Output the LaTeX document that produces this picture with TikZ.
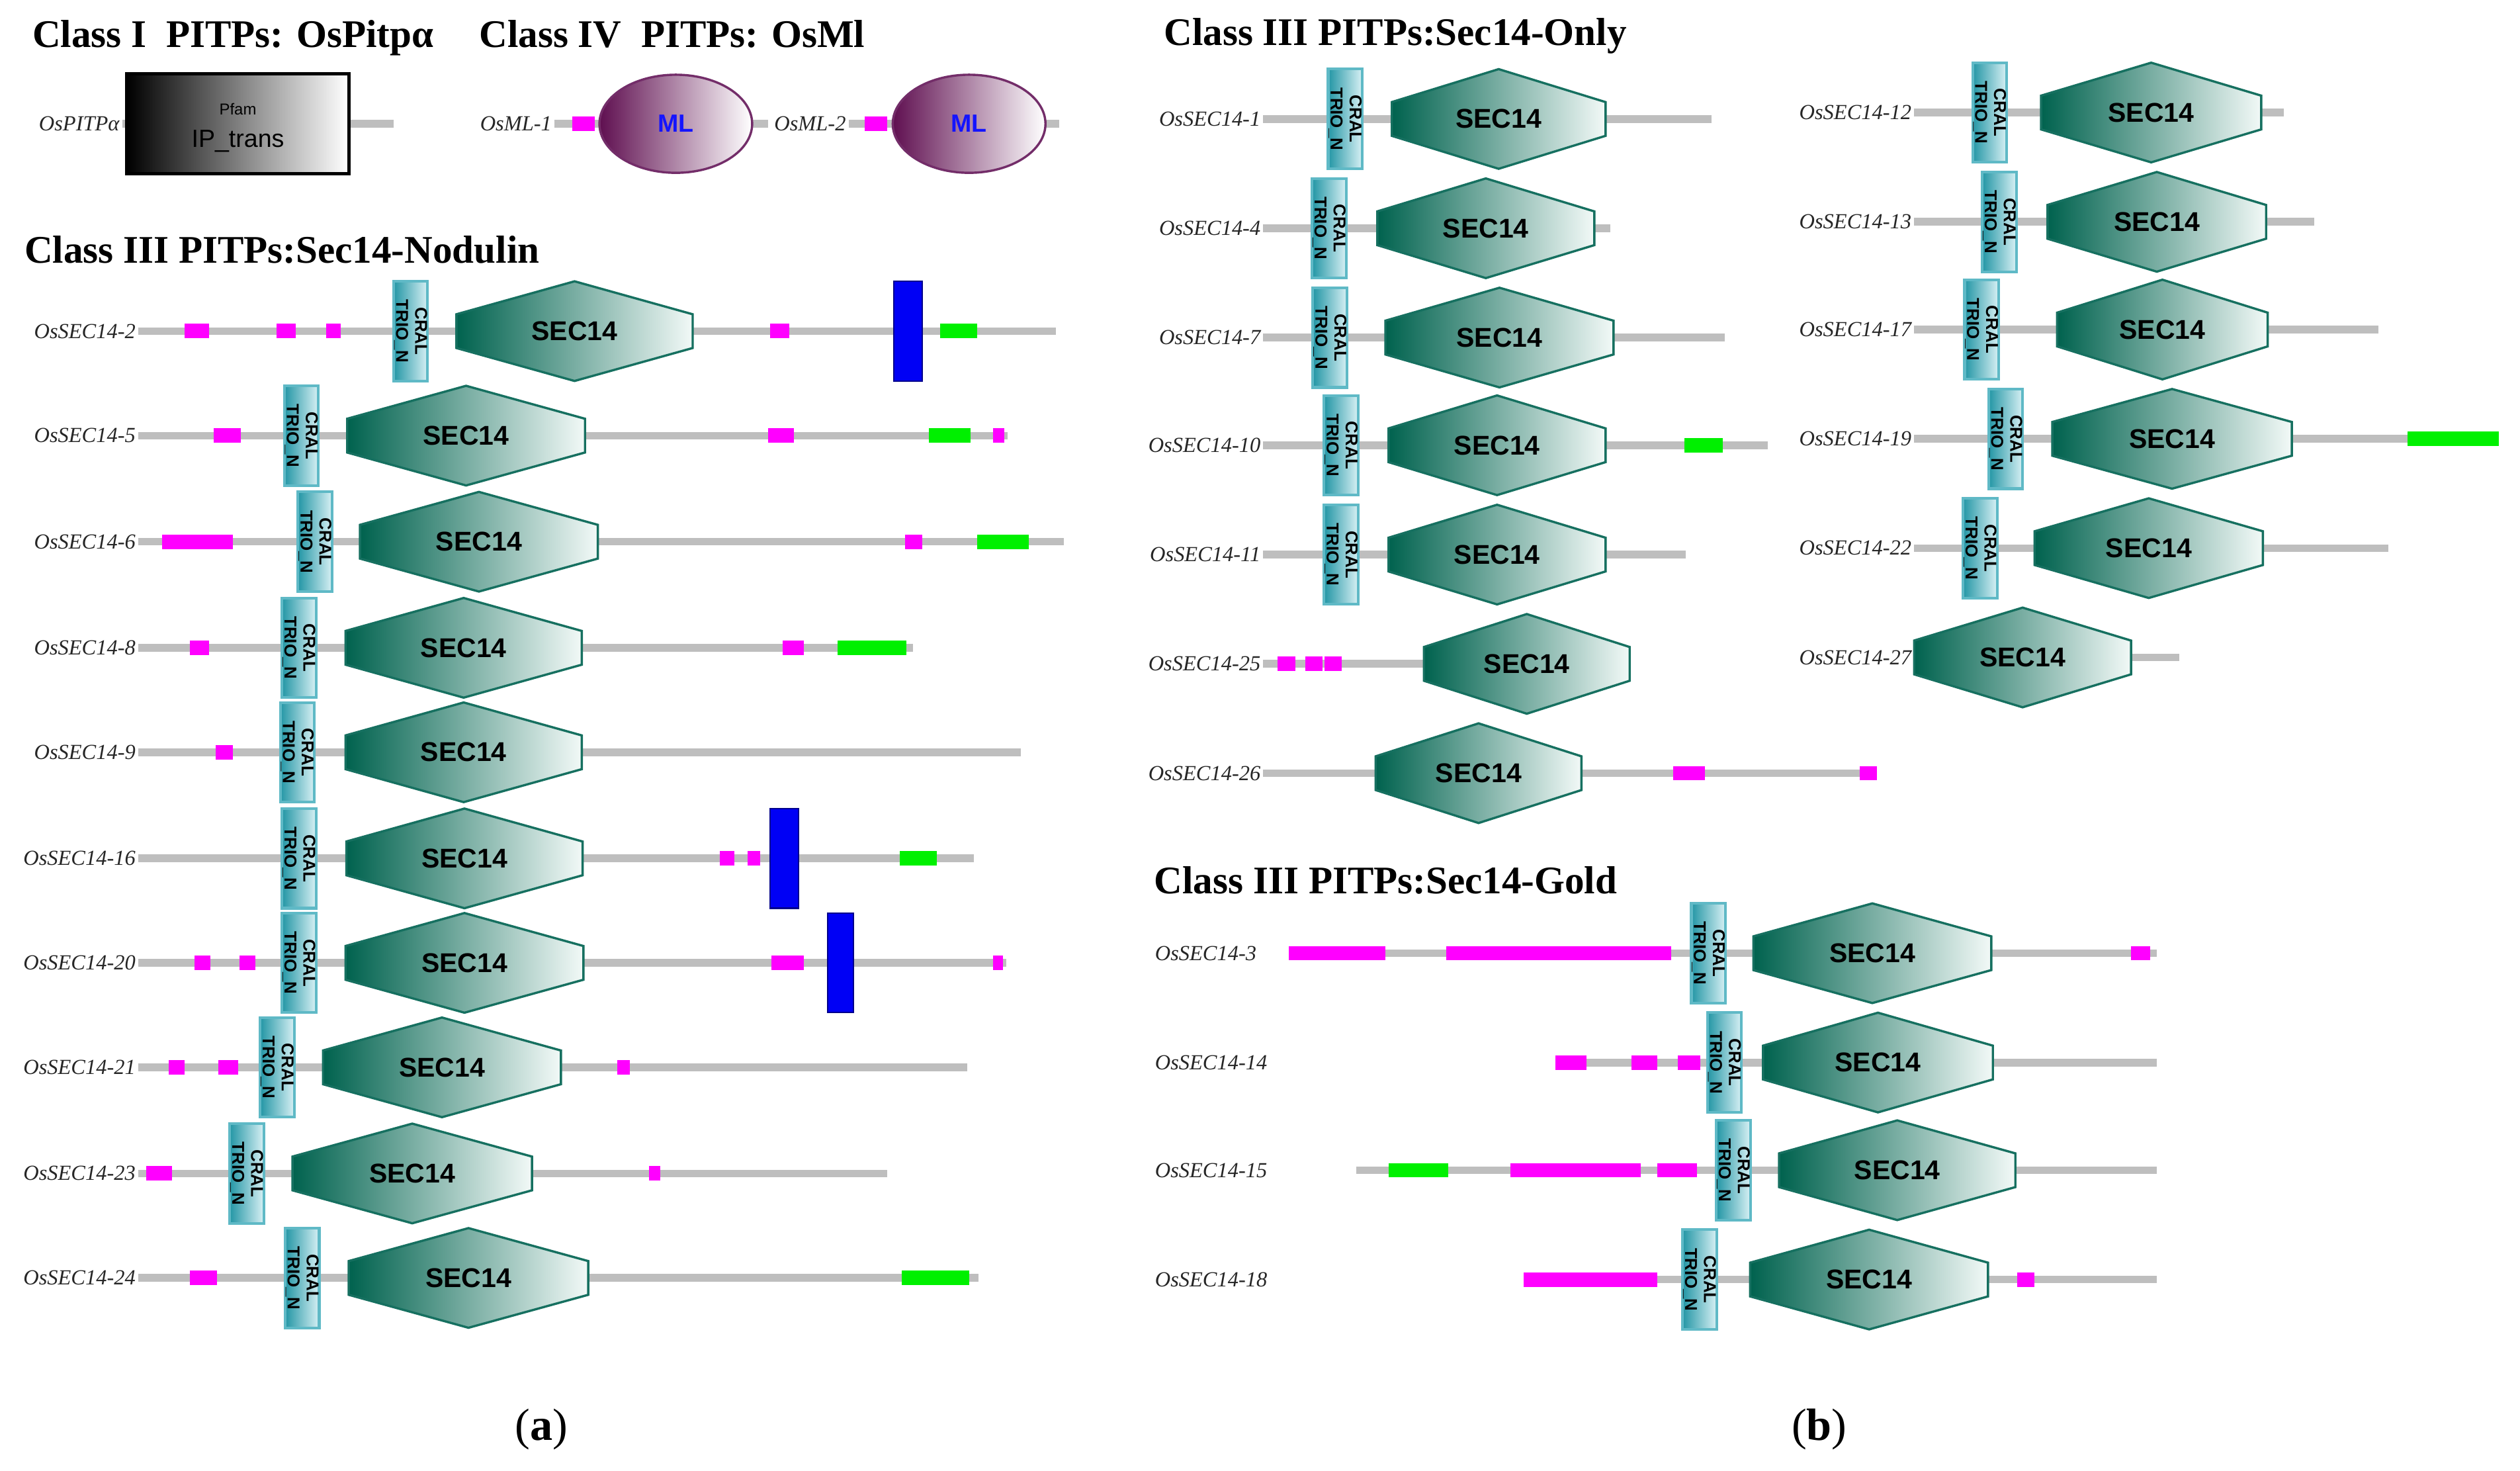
\documentclass[tikz,border=0pt]{standalone}
\usepackage{fontspec}
\setmainfont{Liberation Serif}
\newfontfamily\arial{Liberation Sans}
\usepackage{graphicx}
\usetikzlibrary{shapes.geometric, calc, positioning}

\definecolor{backgray}{RGB}{190,190,190}
\definecolor{motifpink}{RGB}{255,0,255}
\definecolor{motifgreen}{RGB}{0,240,0}
\definecolor{tmblue}{RGB}{0,0,245}
\definecolor{tmborder}{RGB}{0,0,140}
\definecolor{hexdark}{RGB}{0,98,78}
\definecolor{hexlight}{RGB}{242,249,247}
\definecolor{hexline}{RGB}{22,112,96}
\definecolor{craldark}{RGB}{35,150,165}
\definecolor{crallight}{RGB}{215,240,244}
\definecolor{cralline}{RGB}{95,185,198}
\definecolor{mldark}{RGB}{95,15,80}
\definecolor{mlline}{RGB}{115,45,105}
\definecolor{mlblue}{RGB}{20,20,255}

\tikzstyle{title} = [anchor=base west, inner sep=0pt, font=\fontsize{17.3}{17.3}\selectfont\bfseries]
\tikzstyle{protname} = [anchor=east, inner sep=1pt, font=\fontsize{9.5}{9.5}\selectfont\itshape, text=black!85]
\tikzstyle{goldname} = [protname, anchor=west]
\tikzstyle{backbone} = [draw=backgray, line width=3.4pt]
\tikzstyle{pinkbox} = [fill=motifpink]
\tikzstyle{greenbox} = [fill=motifgreen]
\tikzstyle{tmbox} = [fill=tmblue, draw=tmborder, line width=0.6pt]
\tikzstyle{cral} = [rectangle, minimum width=0.53cm, minimum height=1.55cm, inner sep=0pt, left color=craldark, right color=crallight, draw=cralline, line width=1.2pt, font=\fontsize{7.6}{7.6}\selectfont\arial\bfseries]
\tikzstyle{hexa} = [draw=hexline, line width=1pt, left color=hexdark, right color=hexlight]
\tikzstyle{sectext} = [inner sep=0pt, font=\fontsize{12}{12}\selectfont\arial\bfseries]
\tikzstyle{mlnode} = [ellipse, minimum width=2.375cm, minimum height=1.525cm, inner sep=0pt, left color=mldark, right color=white, draw=mlline, line width=1pt, text=mlblue, font=\fontsize{11}{11}\selectfont\arial\bfseries]
\tikzstyle{ipbox} = [rectangle, minimum width=3.45cm, minimum height=1.55cm, inner sep=0pt, left color=black, right color=white, draw=black, line width=1.4pt]

% hexagon with its SEC14 label: name, centre x, half width
\newcommand{\sechex}[3]{%
  \path[hexa] ({#2-#3},-10.5) -- (#2,-31) -- ({#2+#3},-10.5) -- ({#2+#3},10.5) -- (#2,31) -- ({#2-#3},10.5) -- cycle;
  \node[sectext] (#1) at (#2,0) {SEC14};}
\newcommand{\pinks}[1]{\foreach \a/\b in {#1} \fill[pinkbox] (\a,-4.5) rectangle (\b,4.5);}
\newcommand{\greens}[1]{\foreach \a/\b in {#1} \fill[greenbox] (\a,-4.5) rectangle (\b,4.5);}
\newcommand{\tms}[1]{\foreach \a/\b in {#1} \draw[tmbox] (\a,-31) rectangle (\b,31);}
\newcommand{\cralbox}{\rotatebox{-90}{\shortstack{CRAL\\TRIO\_N}}}

\begin{document}
\begin{tikzpicture}[x=0.025cm, y=-0.025cm]

\useasboundingbox (0,0) rectangle (1568,915);
\fill[white] (0,0) rectangle (1568,915);

% titles
\node[title] (tone) at (20,29.5) {Class I\ \ PITPs: OsPitpα};
\node[title] (tfour) at (298,29.5) {Class IV\ \ PITPs: OsMl};
\node[title] (tnod) at (15,163.5) {Class III PITPs:Sec14-Nodulin};
\node[title] (tonly) at (724,28) {Class III PITPs:Sec14-Only};
\node[title] (tgold) at (718,556) {Class III PITPs:Sec14-Gold};

% class I and class IV
\begin{scope}[shift={(0,77)}]
\node[protname] (pitp) at (76,0) {OsPITPα};
\coordinate (pitpe) at (245,0);
\draw[backbone] (pitp) -- (pitpe);
\node[ipbox] (iptrans) at (148,0) {};
\node[font=\fontsize{7}{7}\selectfont\arial] (pfam) at (148,-9) {Pfam};
\node[font=\fontsize{11}{11}\selectfont\arial] (ipname) at (148,11) {IP\_trans};

\node[protname] (mla) at (345,0) {OsML-1};
\coordinate (mlae) at (478,0);
\draw[backbone] (mla) -- (mlae);
\pinks{356/370}
\node[mlnode] (mlone) at (420.5,0) {ML};

\node[protname] (mlb) at (528,0) {OsML-2};
\coordinate (mlbe) at (659,0);
\draw[backbone] (mlb) -- (mlbe);
\pinks{538/552}
\node[mlnode] (mltwo) at (603,0) {ML};
\end{scope}

% Sec14-Nodulin
\begin{scope}[shift={(0,206)}]
\node[protname] (n2) at (86,0) {OsSEC14-2};
\coordinate (n2e) at (657,0);
\draw[backbone] (n2) -- (n2e);
\pinks{115/130,172/184,203/212,479/491}
\greens{585/608}
\tms{556/574}
\node[cral] (n2c) at (255.5,0) {\cralbox};
\sechex{n2s}{357.5}{73.5}
\end{scope}

\begin{scope}[shift={(0,271)}]
\node[protname] (n5) at (86,0) {OsSEC14-5};
\coordinate (n5e) at (627,0);
\draw[backbone] (n5) -- (n5e);
\pinks{133/150,478/494,618/625}
\greens{578/604}
\node[cral] (n5c) at (187.5,0) {\cralbox};
\sechex{n5s}{290}{74}
\end{scope}

\begin{scope}[shift={(0,337)}]
\node[protname] (n6) at (86,0) {OsSEC14-6};
\coordinate (n6e) at (662,0);
\draw[backbone] (n6) -- (n6e);
\pinks{101/145,563/574}
\greens{608/640}
\node[cral] (n6c) at (196,0) {\cralbox};
\sechex{n6s}{298}{74}
\end{scope}

\begin{scope}[shift={(0,403)}]
\node[protname] (n8) at (86,0) {OsSEC14-8};
\coordinate (n8e) at (568,0);
\draw[backbone] (n8) -- (n8e);
\pinks{118/130,487/500}
\greens{521/564}
\node[cral] (n8c) at (186,0) {\cralbox};
\sechex{n8s}{288.5}{73.5}
\end{scope}

\begin{scope}[shift={(0,468)}]
\node[protname] (n9) at (86,0) {OsSEC14-9};
\coordinate (n9e) at (635,0);
\draw[backbone] (n9) -- (n9e);
\pinks{134/145}
\node[cral] (n9c) at (185,0) {\cralbox};
\sechex{n9s}{288.5}{73.5}
\end{scope}

\begin{scope}[shift={(0,534)}]
\node[protname] (n16) at (86,0) {OsSEC14-16};
\coordinate (n16e) at (606,0);
\draw[backbone] (n16) -- (n16e);
\pinks{448/457,465/473}
\greens{560/583}
\tms{479/497}
\node[cral] (n16c) at (186,0) {\cralbox};
\sechex{n16s}{289}{73.5}
\end{scope}

\begin{scope}[shift={(0,599)}]
\node[protname] (n20) at (86,0) {OsSEC14-20};
\coordinate (n20e) at (626,0);
\draw[backbone] (n20) -- (n20e);
\pinks{121/131,149/159,480/500,618/624}
\tms{515/531}
\node[cral] (n20c) at (186,0) {\cralbox};
\sechex{n20s}{289}{74}
\end{scope}

\begin{scope}[shift={(0,664)}]
\node[protname] (n21) at (86,0) {OsSEC14-21};
\coordinate (n21e) at (602,0);
\draw[backbone] (n21) -- (n21e);
\pinks{105/115,136/148,384/392}
\node[cral] (n21c) at (172.5,0) {\cralbox};
\sechex{n21s}{275}{74}
\end{scope}

\begin{scope}[shift={(0,730)}]
\node[protname] (n23) at (86,0) {OsSEC14-23};
\coordinate (n23e) at (552,0);
\draw[backbone] (n23) -- (n23e);
\pinks{91/107,404/411}
\node[cral] (n23c) at (153.5,0) {\cralbox};
\sechex{n23s}{256.5}{74.5}
\end{scope}

\begin{scope}[shift={(0,795)}]
\node[protname] (n24) at (86,0) {OsSEC14-24};
\coordinate (n24e) at (609,0);
\draw[backbone] (n24) -- (n24e);
\pinks{118/135}
\greens{561/603}
\node[cral] (n24c) at (188,0) {\cralbox};
\sechex{n24s}{291.5}{74.5}
\end{scope}

% Sec14-Only, first column
\begin{scope}[shift={(0,74)}]
\node[protname] (o1) at (786,0) {OsSEC14-1};
\coordinate (o1e) at (1065,0);
\draw[backbone] (o1) -- (o1e);
\node[cral] (o1c) at (837,0) {\cralbox};
\sechex{o1s}{932.5}{66.5}
\end{scope}

\begin{scope}[shift={(0,142)}]
\node[protname] (o4) at (786,0) {OsSEC14-4};
\coordinate (o4e) at (1002,0);
\draw[backbone] (o4) -- (o4e);
\node[cral] (o4c) at (827,0) {\cralbox};
\sechex{o4s}{924.5}{67.5}
\end{scope}

\begin{scope}[shift={(0,210)}]
\node[protname] (o7) at (786,0) {OsSEC14-7};
\coordinate (o7e) at (1073,0);
\draw[backbone] (o7) -- (o7e);
\node[cral] (o7c) at (827.5,0) {\cralbox};
\sechex{o7s}{933}{71}
\end{scope}

\begin{scope}[shift={(0,277)}]
\node[protname] (o10) at (786,0) {OsSEC14-10};
\coordinate (o10e) at (1100,0);
\draw[backbone] (o10) -- (o10e);
\greens{1048/1072}
\node[cral] (o10c) at (834.5,0) {\cralbox};
\sechex{o10s}{931.5}{67.5}
\end{scope}

\begin{scope}[shift={(0,345)}]
\node[protname] (o11) at (786,0) {OsSEC14-11};
\coordinate (o11e) at (1049,0);
\draw[backbone] (o11) -- (o11e);
\node[cral] (o11c) at (834.5,0) {\cralbox};
\sechex{o11s}{931.5}{67.5}
\end{scope}

\begin{scope}[shift={(0,413)}]
\node[protname] (o25) at (786,0) {OsSEC14-25};
\coordinate (o25e) at (1010,0);
\draw[backbone] (o25) -- (o25e);
\pinks{795/806,812/823,824/835}
\sechex{o25s}{950}{64}
\end{scope}

\begin{scope}[shift={(0,481)}]
\node[protname] (o26) at (786,0) {OsSEC14-26};
\coordinate (o26e) at (1168,0);
\draw[backbone] (o26) -- (o26e);
\pinks{1041/1061,1157/1168}
\sechex{o26s}{920}{64}
\end{scope}

% Sec14-Only, second column
\begin{scope}[shift={(0,70)}]
\node[protname] (o12) at (1191,0) {OsSEC14-12};
\coordinate (o12e) at (1421,0);
\draw[backbone] (o12) -- (o12e);
\node[cral] (o12c) at (1238,0) {\cralbox};
\sechex{o12s}{1338.5}{68.5}
\end{scope}

\begin{scope}[shift={(0,138)}]
\node[protname] (o13) at (1191,0) {OsSEC14-13};
\coordinate (o13e) at (1440,0);
\draw[backbone] (o13) -- (o13e);
\node[cral] (o13c) at (1244,0) {\cralbox};
\sechex{o13s}{1342}{68}
\end{scope}

\begin{scope}[shift={(0,205)}]
\node[protname] (o17) at (1191,0) {OsSEC14-17};
\coordinate (o17e) at (1480,0);
\draw[backbone] (o17) -- (o17e);
\node[cral] (o17c) at (1233,0) {\cralbox};
\sechex{o17s}{1345.5}{65.5}
\end{scope}

\begin{scope}[shift={(0,273)}]
\node[protname] (o19) at (1191,0) {OsSEC14-19};
\coordinate (o19e) at (1555,0);
\draw[backbone] (o19) -- (o19e);
\greens{1498/1555}
\node[cral] (o19c) at (1248,0) {\cralbox};
\sechex{o19s}{1351.5}{74.5}
\end{scope}

\begin{scope}[shift={(0,341)}]
\node[protname] (o22) at (1191,0) {OsSEC14-22};
\coordinate (o22e) at (1486,0);
\draw[backbone] (o22) -- (o22e);
\node[cral] (o22c) at (1232,0) {\cralbox};
\sechex{o22s}{1337}{71}
\end{scope}

\begin{scope}[shift={(0,409)}]
\node[protname] (o27) at (1191,0) {OsSEC14-27};
\coordinate (o27e) at (1356,0);
\draw[backbone] (o27) -- (o27e);
\sechex{o27s}{1258.5}{67.5}
\end{scope}

% Sec14-Gold
\begin{scope}[shift={(0,593)}]
\node[goldname] (g3) at (717,0) {OsSEC14-3};
\coordinate (g3b) at (802,0);
\coordinate (g3e) at (1342,0);
\draw[backbone] (g3b) -- (g3e);
\pinks{802/862,900/1040,1326/1338}
\node[cral] (g3c) at (1063,0) {\cralbox};
\sechex{g3s}{1165}{74}
\end{scope}

\begin{scope}[shift={(0,661)}]
\node[goldname] (g14) at (717,0) {OsSEC14-14};
\coordinate (g14b) at (968,0);
\coordinate (g14e) at (1342,0);
\draw[backbone] (g14b) -- (g14e);
\pinks{968/987,1015/1031,1044/1058}
\node[cral] (g14c) at (1073,0) {\cralbox};
\sechex{g14s}{1168.5}{71.5}
\end{scope}

\begin{scope}[shift={(0,728)}]
\node[goldname] (g15) at (717,0) {OsSEC14-15};
\coordinate (g15b) at (844,0);
\coordinate (g15e) at (1342,0);
\draw[backbone] (g15b) -- (g15e);
\greens{864/901}
\pinks{940/1021,1031/1056}
\node[cral] (g15c) at (1078.5,0) {\cralbox};
\sechex{g15s}{1180.5}{73.5}
\end{scope}

\begin{scope}[shift={(0,796)}]
\node[goldname] (g18) at (717,0) {OsSEC14-18};
\coordinate (g18b) at (948,0);
\coordinate (g18e) at (1342,0);
\draw[backbone] (g18b) -- (g18e);
\pinks{948/1031,1255/1266}
\node[cral] (g18c) at (1057.5,0) {\cralbox};
\sechex{g18s}{1163}{74}
\end{scope}

% panel captions
\node[anchor=base, font=\fontsize{20}{20}\selectfont] (capa) at (337,896) {(\textbf{a})};
\node[anchor=base, font=\fontsize{20}{20}\selectfont] (capb) at (1132,896) {(\textbf{b})};

\end{tikzpicture}
\end{document}
